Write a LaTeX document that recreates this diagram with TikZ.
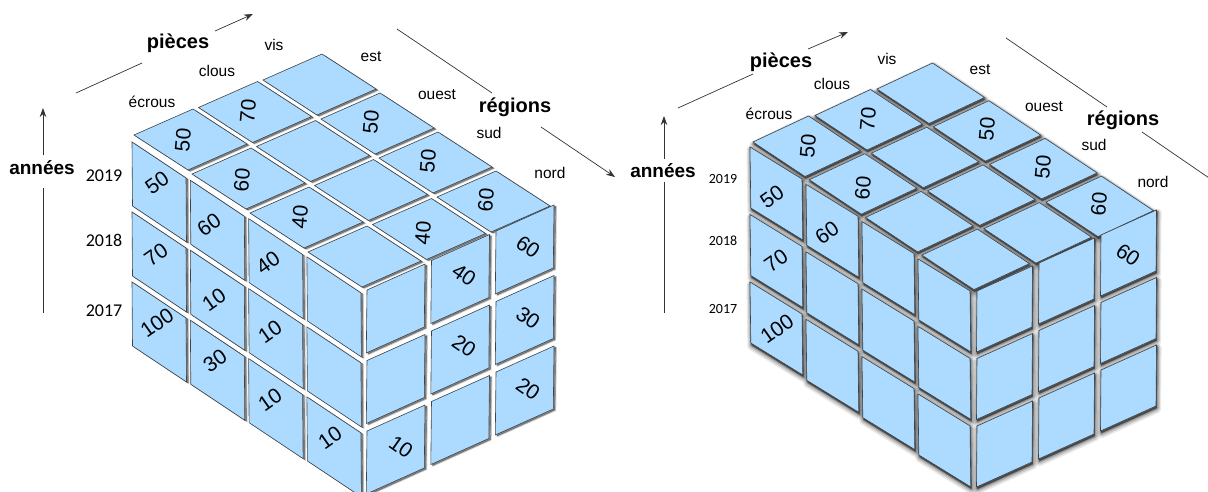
\documentclass[tikz,border=0pt]{standalone}
\usepackage{fontspec}
\setmainfont{Liberation Sans}
\newfontfamily\carlitofont{Carlito}
\usetikzlibrary{arrows.meta}
\definecolor{tileblue}{HTML}{ADDBFF}
\definecolor{tileedge}{HTML}{3C444A}
\definecolor{axisgray}{HTML}{333333}
\tikzset{
  tilebody/.style={fill=tileblue,draw=tileedge,line width=0.6pt,line join=miter},
  softa/.style={draw=black,opacity=.16,line width=1pt,fill=black,shift={(2.4,1.5)}},
  softb/.style={draw=black,opacity=.38,line width=.4pt,fill=black,shift={(1.6,1)}},
  softc/.style={draw=black,opacity=.09,line width=8.5pt,fill=black,shift={(.8,3)},line join=round},
  softd/.style={draw=black,opacity=.13,line width=6pt,fill=black,shift={(.8,2.6)},line join=round},
  softe/.style={draw=black,opacity=.18,line width=3.5pt,fill=black,shift={(.8,2.2)},line join=round},
  softf/.style={draw=black,opacity=.22,line width=1.5pt,fill=black,shift={(.6,1.6)},line join=round},
  numlab/.style={inner sep=0pt,font=\fontsize{21}{21}\selectfont,text=black},
  numtop/.style={numlab,rotate=85},
  numleft/.style={numlab,rotate=35},
  numright/.style={numlab,rotate=-35},
  catlab/.style={inner sep=0pt,yshift=-1pt,font=\fontsize{15.5}{15.5}\selectfont,text=black},
  axislab/.style={inner sep=0pt,font=\bfseries\fontsize{20}{20}\selectfont,text=black},
  anneelab/.style={inner sep=0pt,font=\bfseries\fontsize{19}{19}\selectfont,text=black},
  yearlab/.style={inner sep=0pt,yshift=-1pt,font=\carlitofont\fontsize{18}{18}\selectfont,text=black},
  yearsmall/.style={inner sep=0pt,font=\carlitofont\fontsize{14}{14}\selectfont,text=black},
  axisline/.style={draw=axisgray,line width=.7pt},
  axisarrow/.style={axisline,-{Stealth[length=9pt,width=6.5pt]}},
}
% parallelogram: corner, first side, second side, style
\newcommand\paral[7]{\path[#7] (#1,#2) -- ++(#3,#4) -- ++(#5,#6) -- ++({-(#3)},{-(#4)}) -- cycle;}
\newcommand\cubeleft[1]{%
  \foreach \i in {0,1,2,3}{\foreach \j in {0,1,2}{%
    \paral{134+\i*58+\j*64.5}{135+\i*39-\j*27.5}{59}{-26}{54}{35}{#1}}}%
  \foreach \i in {0,1,2,3}{\foreach \r in {0,1,2}{%
    \paral{132+\i*58.3}{142+\i*38.3+\r*70}{54}{36}{0.5}{64}{#1}}}%
  \foreach \c in {0,1,2}{\foreach \r in {0,1,2}{%
    \paral{367+\c*64.5}{290-\c*29.5+\r*70.5}{58}{-26}{-0.7}{63}{#1}}}%
}
\newcommand\cuberight[1]{%
  \foreach \i in {0,1,2,3}{\foreach \j in {0,1,2}{%
    \paral{753+\i*56.3+\j*62}{142+\i*37.7-\j*26.5}{55.5}{-26}{52}{34.5}{#1}}}%
  \foreach \i in {0,1,2,3}{\foreach \r in {0,1,2}{%
    \paral{750+\i*56}{147+\i*37.3+\r*67.5}{52}{32}{0.8}{61}{#1}}}%
  \foreach \c in {0,1,2}{\foreach \r in {0,1,2}{%
    \paral{977+\c*62}{291-\c*28+\r*67.5}{55.5}{-25}{-0.5}{61}{#1}}}%
}
\begin{document}
\begin{tikzpicture}[x=1pt,y=-1pt]
\useasboundingbox (0,0) rectangle (1208,491);
\clip (0,0) rectangle (1208,491);
% left cube
\cubeleft{softa}
\cubeleft{softb}
\cubeleft{tilebody}
% right cube
\cuberight{softc}
\cuberight{softd}
\cuberight{softe}
\cuberight{softf}
\cuberight{tilebody}
% left cube: numbers on top
\node[numtop] (lt1) at (183,140) {50};
\node[numtop] (lt2) at (248,111) {70};
\node[numtop] (lt3) at (242,180) {60};
\node[numtop] (lt4) at (371,122) {50};
\node[numtop] (lt5) at (428,161) {50};
\node[numtop] (lt6) at (486,200) {60};
\node[numtop] (lt7) at (300,217) {40};
\node[numtop] (lt8) at (423,233) {40};
% left cube: numbers on left face
\node[numleft] (ll1) at (157,183) {50};
\node[numleft] (ll2) at (209,225) {60};
\node[numleft] (ll3) at (268,263) {40};
\node[numleft] (ll4) at (156,255) {70};
\node[numleft] (ll5) at (214,300) {10};
\node[numleft] (ll6) at (270,332) {10};
\node[numleft] (ll7) at (157,323) {100};
\node[numleft] (ll8) at (215,361) {30};
\node[numleft] (ll9) at (270,400) {10};
\node[numleft] (ll10) at (330,438) {10};
% left cube: numbers on right face
\node[numright] (lr1) at (528,247) {60};
\node[numright] (lr2) at (464,275) {40};
\node[numright] (lr3) at (528,318) {30};
\node[numright] (lr4) at (464,346) {20};
\node[numright] (lr5) at (528,389) {20};
\node[numright] (lr6) at (401,447) {10};
% left labels
\node[yearlab] (ly19) at (104,175) {2019};
\node[yearlab] (ly18) at (104,239) {2018};
\node[yearlab] (ly17) at (104,310) {2017};
\node[catlab] (lc1) at (152,101) {écrous};
\node[catlab] (lc2) at (217,70) {clous};
\node[catlab] (lc3) at (274,44) {vis};
\node[catlab] (lc4) at (371,56) {est};
\node[catlab] (lc5) at (437,94) {ouest};
\node[catlab] (lc6) at (489,132) {sud};
\node[catlab] (lc7) at (550,172) {nord};
\node[axislab] (lpieces) at (178,43) {pièces};
\node[anneelab] (lannees) at (42,168) {années};
\node[axislab] (lregions) at (515,107) {régions};
% left axes
\coordinate (la1) at (76,93);
\coordinate (la2) at (142,63);
\coordinate (la3) at (215,31);
\coordinate (la4) at (253,14);
\coordinate (la5) at (43,155);
\coordinate (la6) at (43,108);
\coordinate (la7) at (43,188);
\coordinate (la8) at (43,313);
\coordinate (la9) at (397,29);
\coordinate (la10) at (492,93);
\coordinate (la11) at (541,127);
\coordinate (la12) at (615,177);
\draw[axisline] (la1) -- (la2);
\draw[axisarrow] (la3) -- (la4);
\draw[axisarrow] (la5) -- (la6);
\draw[axisline] (la7) -- (la8);
\draw[axisline] (la9) -- (la10);
\draw[axisarrow] (la11) -- (la12);
% right cube: numbers
\node[numtop] (rt1) at (808,146) {50};
\node[numtop] (rt2) at (868,119) {70};
\node[numtop] (rt3) at (863,188) {60};
\node[numtop] (rt4) at (987,129) {50};
\node[numtop] (rt5) at (1043,167) {50};
\node[numtop] (rt6) at (1099,204) {60};
\node[numleft] (rl1) at (772,197) {50};
\node[numleft] (rl2) at (827,233) {60};
\node[numleft] (rl3) at (776,261) {70};
\node[numleft] (rl4) at (777,329) {100};
\node[numright] (rr1) at (1128,255) {60};
% right labels
\node[yearsmall] (ry19) at (723,179) {2019};
\node[yearsmall] (ry18) at (723,241) {2018};
\node[yearsmall] (ry17) at (723,309) {2017};
\node[catlab] (rc1) at (769,113) {écrous};
\node[catlab] (rc2) at (832,83) {clous};
\node[catlab] (rc3) at (887,58) {vis};
\node[catlab] (rc4) at (980,69) {est};
\node[catlab] (rc5) at (1044,106) {ouest};
\node[catlab] (rc6) at (1094,144) {sud};
\node[catlab] (rc7) at (1153,181) {nord};
\node[axislab] (rpieces) at (781,62) {pièces};
\node[anneelab] (rannees) at (663,171) {années};
\node[axislab] (rregions) at (1123,120) {régions};
% right axes
\coordinate (ra1) at (678,108);
\coordinate (ra2) at (753,74);
\coordinate (ra3) at (808,49);
\coordinate (ra4) at (848,32);
\coordinate (ra5) at (664,159);
\coordinate (ra6) at (664,116);
\coordinate (ra7) at (664,182);
\coordinate (ra8) at (664,313);
\coordinate (ra9) at (1006,38);
\coordinate (ra10) at (1107,107);
\coordinate (ra11) at (1142,132);
\coordinate (ra12) at (1212,180);
\draw[axisline] (ra1) -- (ra2);
\draw[axisarrow] (ra3) -- (ra4);
\draw[axisarrow] (ra5) -- (ra6);
\draw[axisline] (ra7) -- (ra8);
\draw[axisline] (ra9) -- (ra10);
\draw[axisline] (ra11) -- (ra12);
\end{tikzpicture}
\end{document}
